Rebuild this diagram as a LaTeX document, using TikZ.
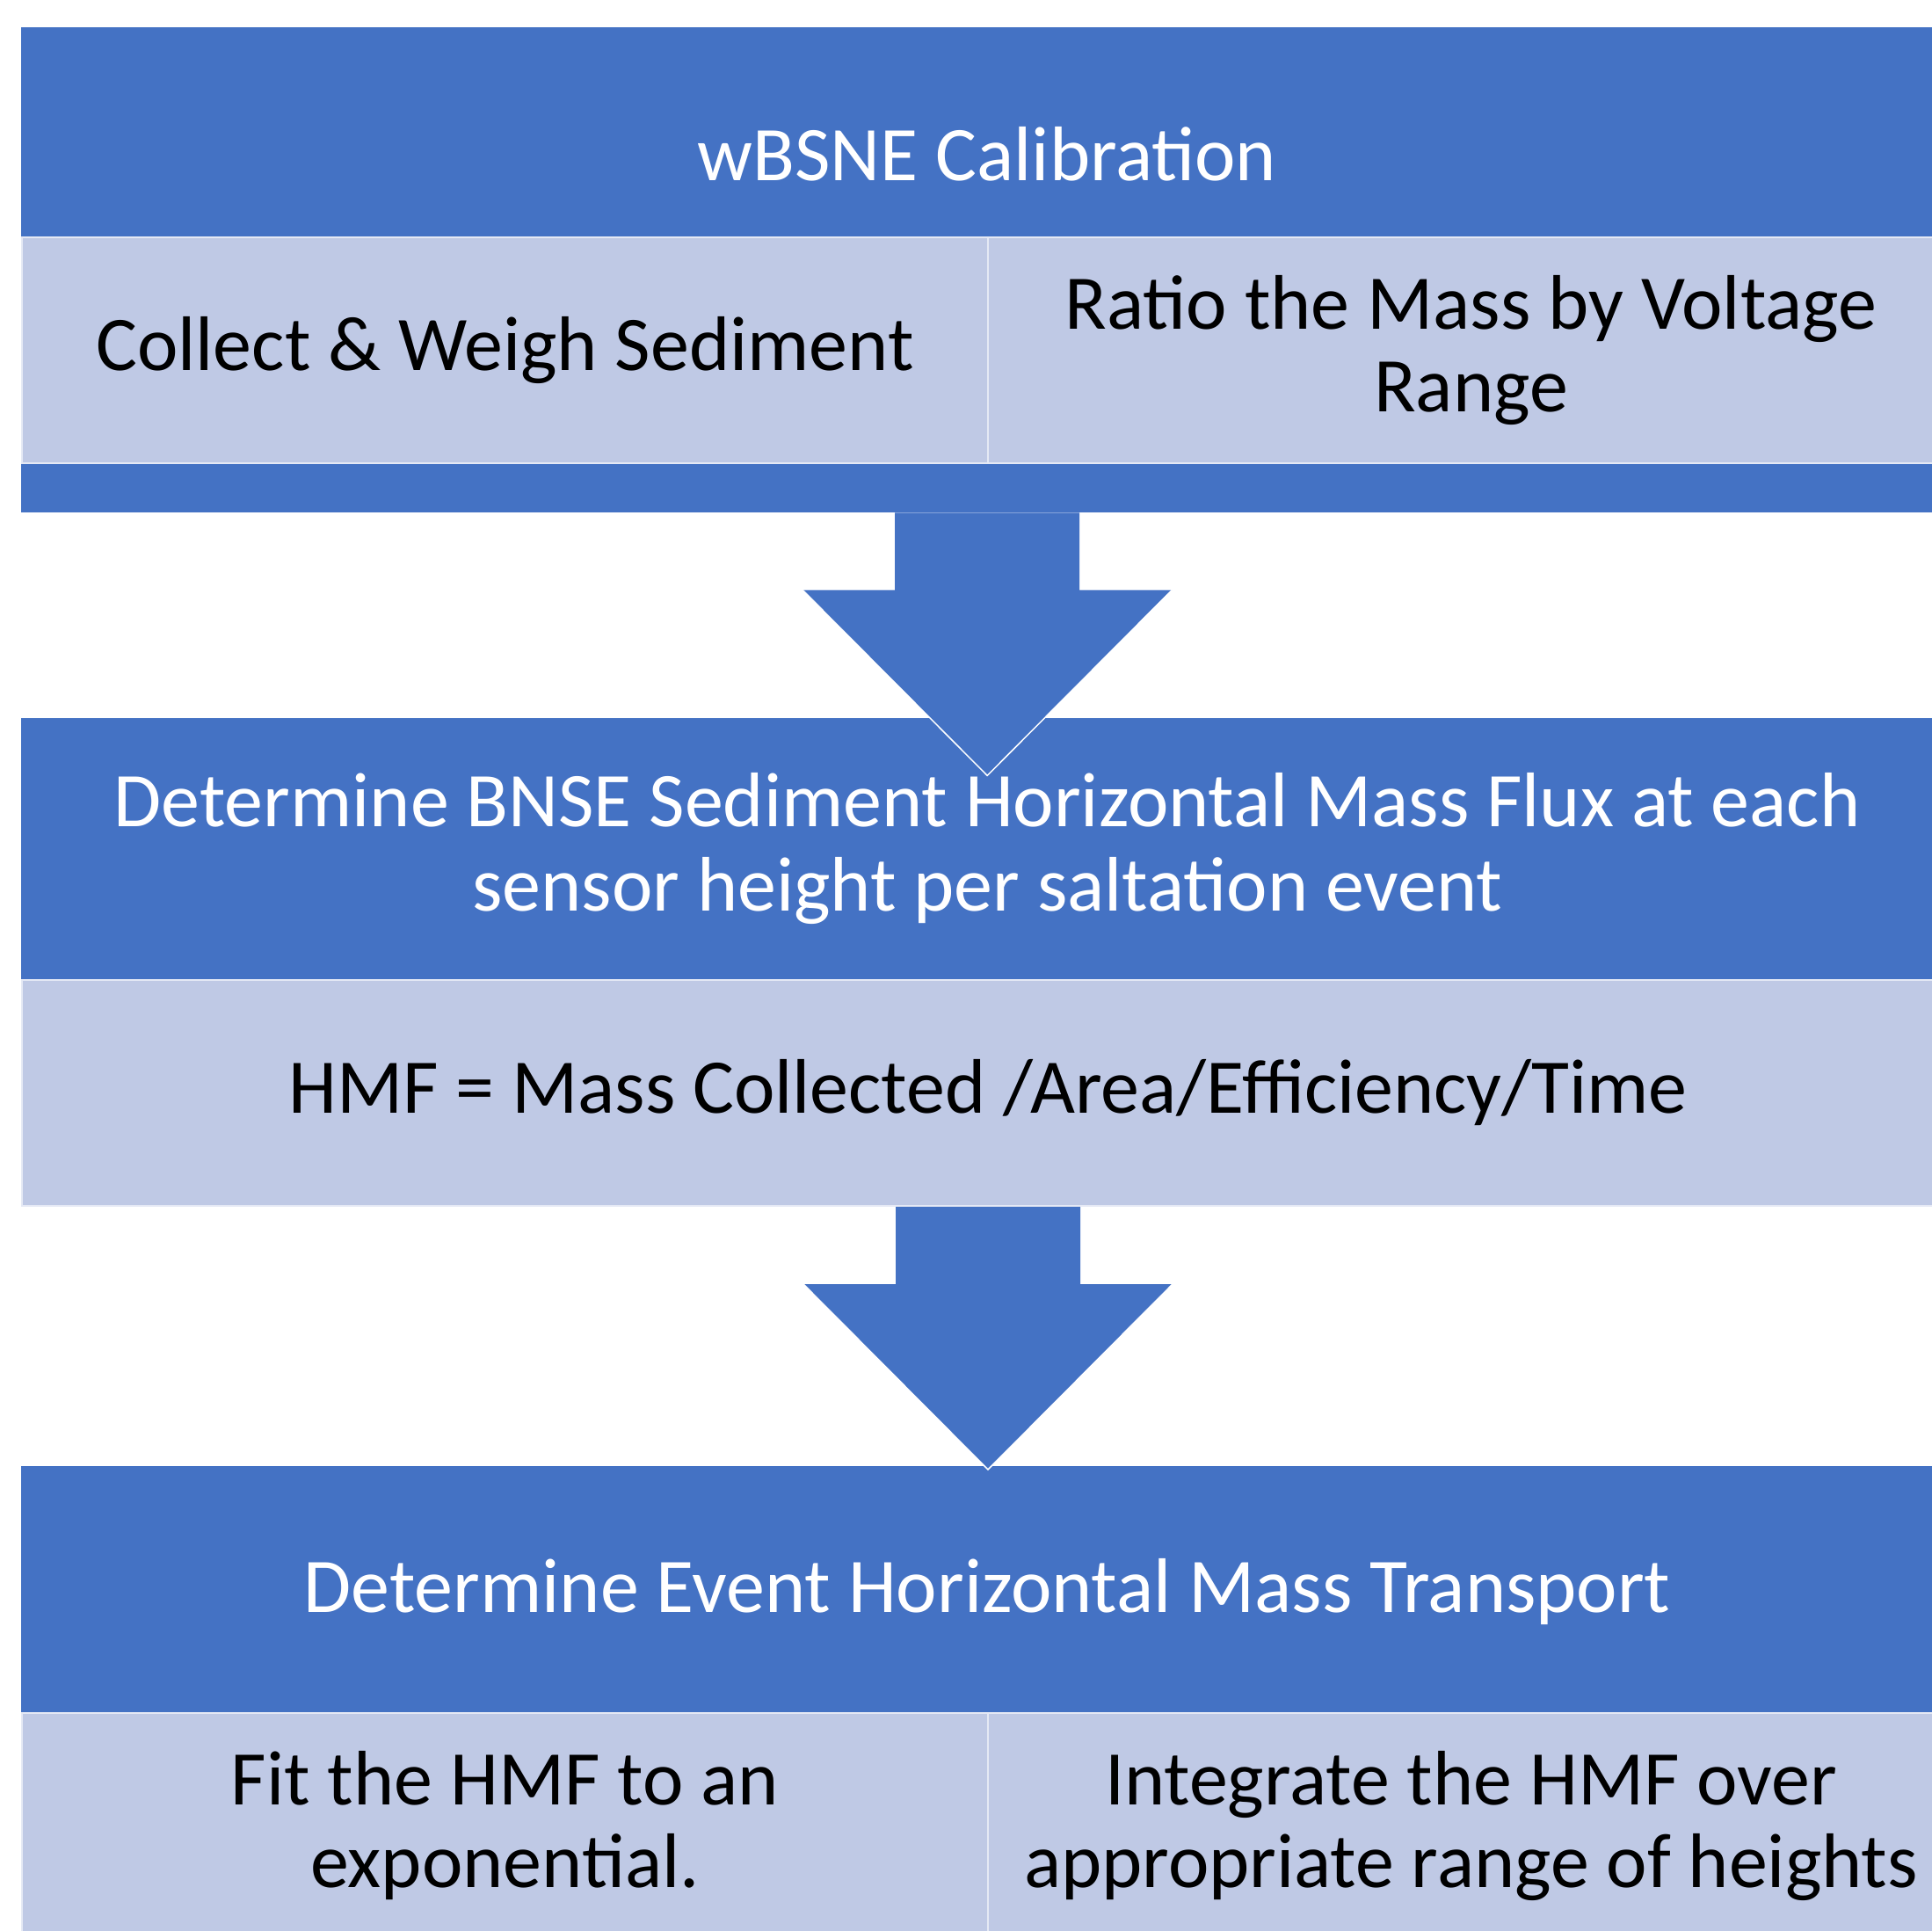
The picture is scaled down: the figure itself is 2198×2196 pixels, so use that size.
\documentclass[tikz,border=0pt]{standalone}
\usepackage{fontspec}
\setmainfont{Carlito}
\usetikzlibrary{positioning,calc}

\definecolor{flowblue}{RGB}{68,114,196}
\definecolor{flowpale}{RGB}{191,201,229}

\tikzset{
  band/.style={rectangle,fill=flowblue,text=white,inner sep=0pt,
    minimum width=2198pt,anchor=north west,align=center,
    font=\fontsize{88}{96}\selectfont},
  cell/.style={rectangle,fill=flowpale,draw=white!60!flowpale,line width=2pt,
    text=black,inner sep=0pt,minimum width=1099pt,minimum height=257pt,
    anchor=north west,align=center,font=\fontsize{88}{94}\selectfont},
}

% fat arrow hanging down from a point, 300 long
\newcommand{\flowarrow}[1]{%
  \fill[flowblue] (#1) ++(-105,0) -- ++(0,88) -- ++(-105,0) -- ++(210,211)
    -- ++(210,-211) -- ++(-105,0) -- ++(0,-88) -- cycle;
  \draw[white,line width=1.5pt] (#1) ++(-210,88) -- ++(210,211) -- ++(210,-211);
}

\begin{document}
\begin{tikzpicture}[x=1pt,y=-1pt]
\useasboundingbox (0,0) rectangle (2198,2196);

% calibration block
\node[band,minimum height=552pt] (calib) at (24,31) {};
\node[band,anchor=base,minimum width=0pt] (calibtxt) at (1123,205) {wBSNE Calibration};
\node[cell] (weigh) at (24,269) {Collect \& Weigh Sediment};
\node[cell] (ratio) at (1123,269) {Ratio the Mass by Voltage\\Range};

% flux block
\node[band,minimum height=297pt] (flux) at (24,817)
  {Determine BNSE Sediment Horizontal Mass Flux at each\\sensor height per saltation event};
\node[cell,minimum width=2198pt] (hmf) at (24,1114)
  {HMF = Mass Collected /Area/Efficiency/Time};

% transport block
\node[band,minimum height=286pt,yshift=-6pt] (trans) at (24,1662)
  {Determine Event Horizontal Mass Transport};
\node[cell] (fit) at (24,1948) {Fit the HMF to an\\exponential.};
\node[cell] (integ) at (1123,1948) {Integrate the HMF over\\appropriate range of heights};

\flowarrow{calib.south}
\flowarrow{hmf.south}
\end{tikzpicture}
\end{document}
